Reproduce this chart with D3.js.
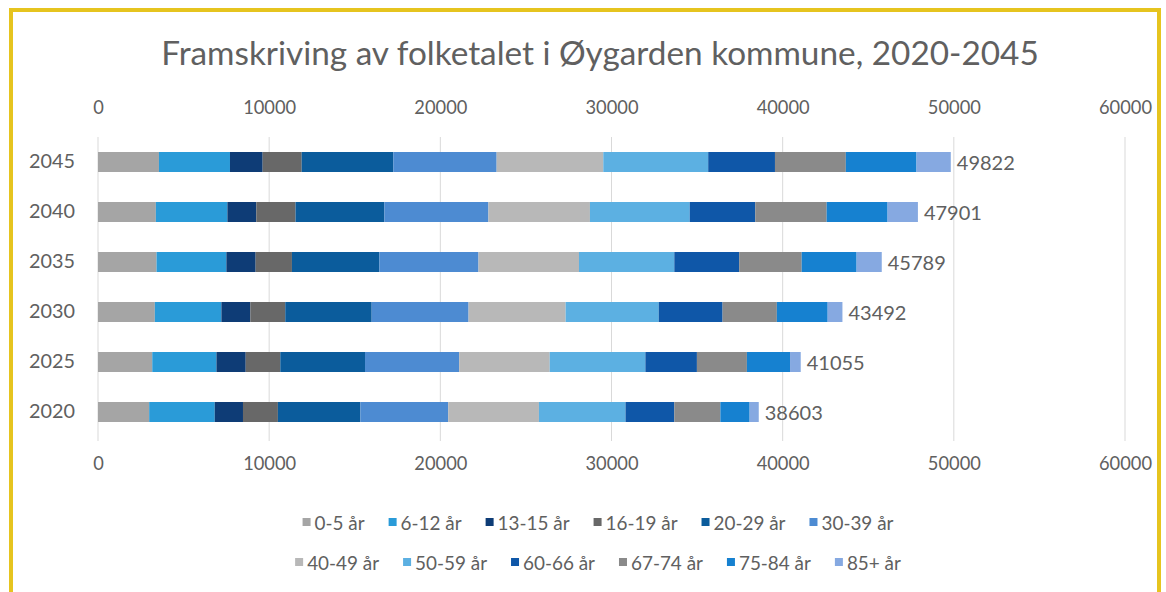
<!DOCTYPE html>
<html><head><meta charset="utf-8">
<script src="https://cdn.jsdelivr.net/npm/d3@7"></script>
<style>html,body{margin:0;padding:0;background:#fff;overflow:hidden}svg{display:block}</style>
</head><body><svg id="c" width="1166" height="592"></svg>
<script>
const title = "Framskriving av folketalet i Øygarden kommune, 2020-2045";
const years = ["2020", "2025", "2030", "2035", "2040", "2045"];
const ageGroups = ["0-5 år", "6-12 år", "13-15 år", "16-19 år", "20-29 år", "30-39 år",
                   "40-49 år", "50-59 år", "60-66 år", "67-74 år", "75-84 år", "85+ år"];
const pop2020 = [2990, 3830, 1650, 2040, 4820, 5130, 5300, 5060, 2850, 2690, 1710, 533];
const pop2025 = [3170, 3750, 1710, 2020, 4950, 5500, 5290, 5590, 3010, 2920, 2520, 625];
const pop2030 = [3320, 3890, 1690, 2040, 5050, 5660, 5670, 5440, 3730, 3170, 2970, 862];
const pop2035 = [3420, 4080, 1710, 2120, 5110, 5790, 5870, 5570, 3790, 3650, 3210, 1469];
const pop2040 = [3380, 4180, 1690, 2290, 5190, 6080, 5930, 5830, 3830, 4170, 3560, 1771];
const pop2045 = [3560, 4150, 1910, 2280, 5350, 6040, 6230, 6130, 3900, 4140, 4130, 2002];
const totals = [38603, 41055, 43492, 45789, 47901, 49822];
const xTicks = [0, 10000, 20000, 30000, 40000, 50000, 60000];
const colors = ["#A5A5A5", "#2A9BD8", "#0E3C76", "#686868", "#0B5C9C", "#4D8BD2",
                "#B8B8B8", "#5CB0E2", "#0F57A8", "#8A8A8A", "#1681D0", "#86A9E1"];

const popByYear = [pop2020, pop2025, pop2030, pop2035, pop2040, pop2045];
const table = years.map((y, i) => {
  const row = { year: y, total: totals[i] };
  ageGroups.forEach((g, j) => row[g] = popByYear[i][j]);
  return row;
});

const W = 1166, H = 592;
const FONT = "Lato, 'Open Sans', 'DejaVu Sans', sans-serif";
const TXT = "#606060";
const svg = d3.select("#c");

function fit(sample, width) {
  const t = svg.append("text").attr("font-family", FONT).attr("font-size", 100).text(sample);
  const w = t.node().getComputedTextLength();
  t.remove();
  return 100 * width / w;
}

// background + frame
svg.append("rect").attr("x", 0).attr("y", 0).attr("width", W).attr("height", H).attr("fill", "#fff");
svg.append("rect").attr("x", 11).attr("y", 10).attr("width", 1148).attr("height", 640)
  .attr("fill", "none").attr("stroke", "#E6C41F").attr("stroke-width", 4);

const x = d3.scaleLinear().domain([0, 60000]).range([98, 1125]);
const y = d3.scaleBand().domain(years.slice().reverse()).range([137, 437])
  .paddingInner(0.6).paddingOuter(0.3);

// title
const titleSize = fit(title, 878);
svg.append("text").attr("x", 600).attr("y", 52).attr("text-anchor", "middle")
  .attr("dominant-baseline", "central").attr("font-family", FONT)
  .attr("font-size", titleSize).attr("fill", TXT).text(title);

// gridlines
svg.append("g").selectAll("line").data(xTicks).join("line")
  .attr("x1", d => x(d)).attr("x2", d => x(d)).attr("y1", 137).attr("y2", 441)
  .attr("stroke", "#D9D9D9").attr("stroke-width", 1);

// axes (top & bottom)
const tickSize = fit("10000", 53);
function styleAxis(g) {
  g.select(".domain").remove();
  g.selectAll(".tick line").remove();
  g.selectAll(".tick text").attr("font-family", FONT).attr("font-size", tickSize)
    .attr("fill", TXT);
}
svg.append("g").attr("transform", "translate(0,114)")
  .call(d3.axisTop(x).tickValues(xTicks).tickFormat(d3.format("d")).tickSize(0).tickPadding(0))
  .call(styleAxis);
svg.append("g").attr("transform", "translate(0,457)")
  .call(d3.axisBottom(x).tickValues(xTicks).tickFormat(d3.format("d")).tickSize(0).tickPadding(0))
  .call(styleAxis);

// category axis
const catSize = fit("2045", 46);
svg.append("g").attr("transform", "translate(75,0)")
  .call(d3.axisLeft(y).tickSize(0).tickPadding(0))
  .call(g => {
    g.select(".domain").remove();
    g.selectAll(".tick text").attr("font-family", FONT).attr("font-size", catSize).attr("fill", TXT);
  });

// stacked bars
const series = d3.stack().keys(ageGroups)(table);
svg.append("g").selectAll("g").data(series).join("g")
  .attr("fill", (d, i) => colors[i])
  .selectAll("rect").data(d => d).join("rect")
  .attr("x", d => x(d[0])).attr("width", d => x(d[1]) - x(d[0]))
  .attr("y", d => y(d.data.year)).attr("height", y.bandwidth());

// total labels
const lblSize = fit("49822", 58);
svg.append("g").selectAll("text").data(table).join("text")
  .attr("x", d => x(d.total) + 6).attr("y", d => y(d.year) + y.bandwidth() / 2)
  .attr("dominant-baseline", "central").attr("font-family", FONT)
  .attr("font-size", lblSize).attr("fill", TXT).text(d => d.total);

// legend
const legSize = fit("30-39 år", 72);
const rows = [ageGroups.slice(0, 6), ageGroups.slice(6)];
const rowY = [522, 562];
const sq = 8, sqGap = 4, itemGap = 24;
rows.forEach((items, r) => {
  const widths = items.map(t => {
    const tt = svg.append("text").attr("font-family", FONT).attr("font-size", legSize).text(t);
    const w = tt.node().getComputedTextLength(); tt.remove(); return w;
  });
  const total = d3.sum(widths) + items.length * (sq + sqGap) + (items.length - 1) * itemGap;
  let cx = 598 - total / 2;
  const g = svg.append("g");
  items.forEach((t, k) => {
    const idx = ageGroups.indexOf(t);
    g.append("rect").attr("x", cx).attr("y", rowY[r] - sq / 2).attr("width", sq).attr("height", sq)
      .attr("fill", colors[idx]);
    g.append("text").attr("x", cx + sq + sqGap).attr("y", rowY[r]).attr("dominant-baseline", "central")
      .attr("font-family", FONT).attr("font-size", legSize).attr("fill", TXT).text(t);
    cx += sq + sqGap + widths[k] + itemGap;
  });
});
</script>
</body></html>
